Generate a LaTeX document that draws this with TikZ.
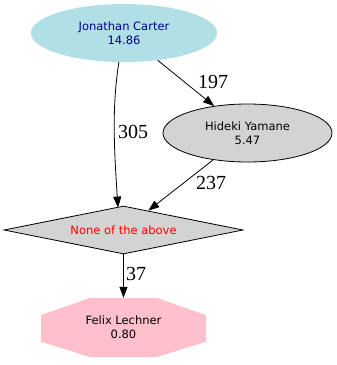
\documentclass[tikz,border=0pt]{standalone}
\usepackage{fontspec}
\newfontfamily\nodefont{DejaVu Sans}
\newfontfamily\lblfont{Liberation Serif}
\usetikzlibrary{shapes.geometric,arrows.meta,calc}
\definecolor{jcfill}{HTML}{B0DFE5}
\definecolor{jctext}{HTML}{00008B}
\definecolor{grayfill}{HTML}{D3D3D3}
\definecolor{pinkfill}{HTML}{FFC0CB}
\begin{document}
\begin{tikzpicture}[x=1pt,y=-1pt,
  txt/.style={font=\nodefont\fontsize{11.5}{14}\selectfont, align=center, inner sep=0pt},
  ell/.style={txt, ellipse, minimum width=#1, minimum height=58pt},
  edge/.style={draw=black, line width=0.8pt, -{Triangle[length=11pt,width=8pt]}},
  lbl/.style={font=\lblfont\fontsize{20}{21}\selectfont, inner sep=0pt, anchor=center},
  octa/.style={txt, rectangle, minimum width=165pt, minimum height=59pt,
    path picture={
      \fill[pinkfill]
        ($(path picture bounding box.north west)!0.295!(path picture bounding box.north east)$) --
        ($(path picture bounding box.north east)!0.295!(path picture bounding box.north west)$) --
        ($(path picture bounding box.north east)!0.29!(path picture bounding box.south east)$) --
        ($(path picture bounding box.south east)!0.26!(path picture bounding box.north east)$) --
        ($(path picture bounding box.south east)!0.295!(path picture bounding box.south west)$) --
        ($(path picture bounding box.south west)!0.295!(path picture bounding box.south east)$) --
        ($(path picture bounding box.south west)!0.26!(path picture bounding box.north west)$) --
        ($(path picture bounding box.north west)!0.29!(path picture bounding box.south west)$) -- cycle;
    }}
]
\useasboundingbox (0,0) rectangle (337,365);
\node[ell=186pt, fill=jcfill, text=jctext] (jc) at (124,33) {Jonathan Carter\\14.86};
\node[ell=169pt, fill=grayfill, draw=black, line width=0.8pt] (hy) at (247.5,133) {Hideki Yamane\\5.47};
\node[txt, diamond, aspect=5, minimum width=239pt, minimum height=48pt, fill=grayfill, draw=black, line width=0.8pt, text=red] (none) at (123.5,230) {None of the above};
\node[octa] (fl) at (123.5,327.5) {Felix Lechner\\0.80};

\draw[edge] (jc.-100) .. controls +(-7,45) and +(-4,-60) .. ([xshift=-5.5pt,yshift=-2pt]none.north);
\draw[edge] (jc) -- (hy);
\draw[edge] (hy) -- (none);
\draw[edge] (none) -- (fl);

\node[lbl] (l305) at (133,132) {305};
\node[lbl] (l197) at (213,82) {197};
\node[lbl] (l237) at (211,182.5) {237};
\node[lbl] (l37) at (136,274) {37};
\end{tikzpicture}
\end{document}
